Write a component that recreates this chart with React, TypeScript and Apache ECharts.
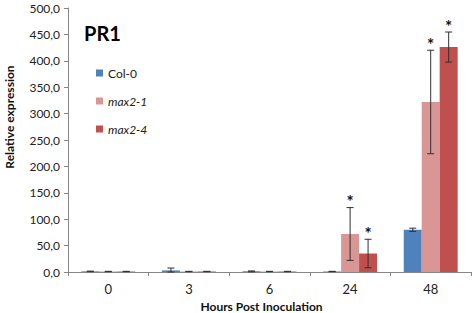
import React, { useEffect, useRef } from "react";
import * as echarts from "echarts";

const categories = ["0", "3", "6", "24", "48"];
const seriesNames = ["Col-0", "max2-1", "max2-4"];
const col0 = [1.2, 3.0, 1.2, 1.0, 80.0];
const col0Err = [0.5, 4.5, 0.8, 0.3, 3.0];
const max21 = [1.0, 1.0, 1.0, 72.0, 322.0];
const max21Err = [0.3, 0.3, 0.3, 50.0, 98.0];
const max24 = [1.0, 1.0, 1.0, 35.0, 426.0];
const max24Err = [0.3, 0.3, 0.3, 27.0, 28.5];
const col0Sig = ["", "", "", "", ""];
const max21Sig = ["", "", "", "*", "*"];
const max24Sig = ["", "", "", "*", "*"];
const yTicks = { min: 0, max: 500, interval: 50 };
const titleText = "PR1";
const xName = "Hours Post Inoculation";
const yName = "Relative expression";

const colors = ["#4F81BD", "#DA9694", "#C0504D"];
const BAR_RATIO = 0.223;
const FONT = "Lato, 'Open Sans', sans-serif";

export default function App() {
  const ref = useRef<HTMLDivElement>(null);
  useEffect(() => {
    document.body.style.margin = "0";
    const chart = echarts.init(ref.current!, null, { renderer: "svg" });
    const values = [col0, max21, max24];
    const errs = [col0Err, max21Err, max24Err];
    const sigs = [col0Sig, max21Sig, max24Sig];

    const barSeries = seriesNames.map((name, i) => ({
      name,
      type: "bar",
      data: values[i],
      barWidth: BAR_RATIO * 100 + "%",
      barGap: "0%",
      itemStyle: { color: colors[i] },
      z: 2,
    }));

    const errSeries = seriesNames.map((name, i) => ({
      type: "custom",
      name: name + "-err",
      z: 5,
      silent: true,
      data: values[i].map((v, k) => [k, v, errs[i][k], sigs[i][k] ? 1 : 0]),
      renderItem: (params: any, api: any) => {
        const idx = api.value(0);
        const val = api.value(1);
        const err = api.value(2);
        const sig = api.value(3);
        const c = api.coord([idx, val]);
        const band = api.size([1, 0])[0];
        const bw = band * BAR_RATIO;
        const x = c[0] + (i - 1) * bw;
        const top = api.coord([idx, val + err])[1];
        const bot = api.coord([idx, Math.max(val - err, 0)])[1];
        const st = { stroke: "#303030", lineWidth: 1 };
        const children: any[] = [
          { type: "line", shape: { x1: x, y1: top, x2: x, y2: bot }, style: st },
          { type: "line", shape: { x1: x - 3.5, y1: top, x2: x + 3.5, y2: top }, style: st },
          { type: "line", shape: { x1: x - 3.5, y1: bot, x2: x + 3.5, y2: bot }, style: st },
        ];
        if (sig) {
          children.push({
            type: "text",
            style: {
              text: "*",
              x,
              y: top - 6,
              align: "center",
              verticalAlign: "middle",
              fontSize: 17,
              fontWeight: "bold",
              fontFamily: FONT,
              fill: "#111",
            },
          });
        }
        return { type: "group", children };
      },
    }));

    chart.setOption({
      animation: false,
      textStyle: { fontFamily: FONT },
      grid: { left: 68, right: 1, top: 8, bottom: 41, containLabel: false, outerBoundsMode: "none" },
      title: {
        text: titleText,
        left: 79,
        top: 18,
        textStyle: { fontSize: 20, fontWeight: "bold", color: "#000", fontFamily: FONT },
      },
      graphic: [
        {
          type: "text",
          x: 9,
          y: 117,
          rotation: Math.PI / 2,
          style: {
            text: yName,
            align: "center",
            verticalAlign: "middle",
            fontSize: 12,
            fontWeight: "bold",
            fontFamily: FONT,
            fill: "#111",
          },
        },
      ],
      legend: {
        orient: "vertical",
        left: 91,
        top: 62,
        itemWidth: 7,
        itemHeight: 7,
        itemGap: 16,
        icon: "rect",
        data: seriesNames,
        formatter: (n: string) => (n === "Col-0" ? "{n|" + n + "}" : "{i|" + n + "}"),
        textStyle: {
          fontSize: 12,
          color: "#222",
          rich: {
            n: { fontSize: 12, color: "#222", fontFamily: FONT },
            i: { fontSize: 12, color: "#222", fontStyle: "italic", fontFamily: FONT },
          },
        },
      },
      xAxis: {
        type: "category",
        data: categories,
        name: xName,
        nameLocation: "middle",
        nameGap: 28,
        nameTextStyle: { fontSize: 12, fontWeight: "bold", color: "#111", padding: [0, 16, 0, 0] },
        axisLine: { lineStyle: { color: "#868686" } },
        axisTick: { show: true, length: 4, lineStyle: { color: "#868686" } },
        axisLabel: { fontSize: 13, color: "#222", margin: 10 },
      },
      yAxis: {
        type: "value",
        min: yTicks.min,
        max: yTicks.max,
        interval: yTicks.interval,
        axisLine: { show: true, lineStyle: { color: "#868686" } },
        axisTick: { show: true, length: 4, lineStyle: { color: "#868686" } },
        splitLine: { show: false },
        axisLabel: {
          fontSize: 12,
          color: "#222",
          margin: 8,
          formatter: (v: number) => v.toFixed(1).replace(".", ","),
        },
      },
      series: [...barSeries, ...errSeries],
    });
    return () => chart.dispose();
  }, []);
  return <div ref={ref} style={{ width: 472, height: 313 }} />;
}
